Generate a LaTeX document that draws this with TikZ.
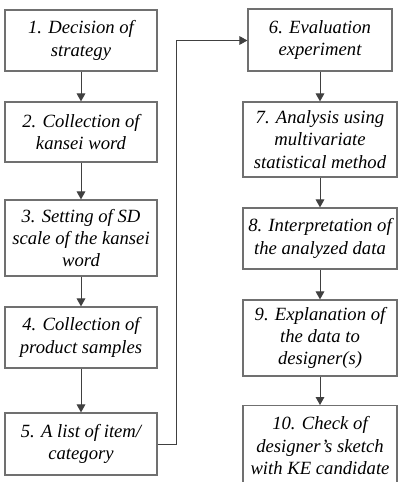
\documentclass[tikz,border=0pt]{standalone}
\usepackage{fontspec}
\setmainfont{Liberation Serif}
\usetikzlibrary{arrows.meta}
\definecolor{boxgray}{HTML}{707070}
\definecolor{linegray}{HTML}{404040}
\tikzset{
  stepbox/.style={draw=boxgray, line width=0.9pt, align=center, inner sep=0pt,
    font=\fontsize{14}{16.8}\selectfont\itshape, fill=white},
  flow/.style={draw=linegray, line width=0.7pt, -{Triangle[length=6pt,width=6.5pt]}}
}
\begin{document}
\begin{tikzpicture}[x=0.75pt,y=-0.75pt]
\useasboundingbox (0,0) rectangle (402,482);
\begin{scope}
\clip (0,0) rectangle (402,482);
% left column
\node[stepbox, minimum width=114pt, minimum height=45.75pt] (n1) at (81,40.5) {1. Decision of\\strategy};
\node[stepbox, minimum width=114pt, minimum height=45pt] (n2) at (81,132) {2. Collection of\\kansei word};
\node[stepbox, minimum width=114pt, minimum height=57pt] (n3) at (81,238) {3. Setting of SD\\scale of the kansei\\word};
\node[stepbox, minimum width=114pt, minimum height=45.75pt] (n4) at (81,337.5) {4. Collection of\\product samples};
\node[stepbox, minimum width=114pt, minimum height=46.5pt] (n5) at (81,444) {5. A list of item/\\category};
% right column
\node[stepbox, minimum width=108pt, minimum height=46.5pt] (n6) at (320,40) {6. Evaluation\\experiment};
\node[stepbox, minimum width=115.5pt, minimum height=56.25pt] (n7) at (320,139.5) {7. Analysis using\\multivariate\\statistical method};
\node[stepbox, minimum width=115.5pt, minimum height=45.75pt] (n8) at (320,238.5) {8. Interpretation of\\the analyzed data};
\node[stepbox, minimum width=115.5pt, minimum height=57pt] (n9) at (320,338) {9. Explanation of\\the data to\\designer(s)};
\node[stepbox, minimum width=115.5pt, minimum height=60pt, anchor=north] (n10) at (320,405) {10. Check of\\designer's sketch\\with KE candidate};
\end{scope}
\coordinate (c1) at (176,444);
\coordinate (c2) at (176,40.5);
\draw[flow] (n1) -- (n2);
\draw[flow] (n2) -- (n3);
\draw[flow] (n3) -- (n4);
\draw[flow] (n4) -- (n5);
\draw[flow] (n5.east) -- (c1) -- (c2) -- (c2 -| n6.west);
\draw[flow] (n6) -- (n7);
\draw[flow] (n7) -- (n8);
\draw[flow] (n8) -- (n9);
\draw[flow] (n9) -- (n10);
\end{tikzpicture}
\end{document}
